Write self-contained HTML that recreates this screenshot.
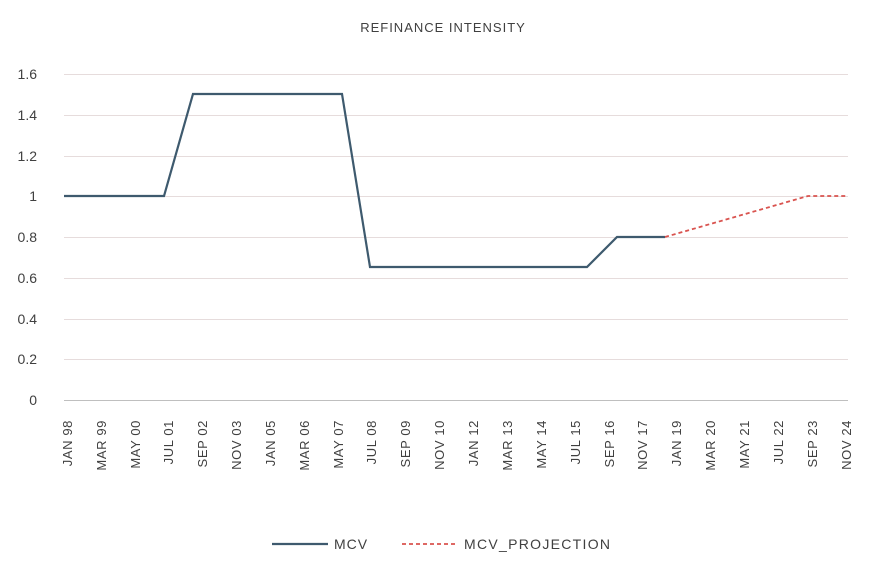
<!DOCTYPE html>
<html><head><style>body{margin:0;background:#fff}svg{display:block}text{font-family:"Liberation Sans",sans-serif;fill:#404040}</style></head><body>
<svg width="871" height="569" xmlns="http://www.w3.org/2000/svg">
<text x="443" y="32" font-size="13" text-anchor="middle" letter-spacing="1">REFINANCE INTENSITY</text>
<g stroke="#e6dcdc" stroke-width="1">
<line x1="64" x2="848" y1="74.5" y2="74.5"/><line x1="64" x2="848" y1="115.5" y2="115.5"/><line x1="64" x2="848" y1="156.5" y2="156.5"/><line x1="64" x2="848" y1="196.5" y2="196.5"/><line x1="64" x2="848" y1="237.5" y2="237.5"/><line x1="64" x2="848" y1="278.5" y2="278.5"/><line x1="64" x2="848" y1="319.5" y2="319.5"/><line x1="64" x2="848" y1="359.5" y2="359.5"/>
</g>
<line x1="64" x2="848" y1="400.5" y2="400.5" stroke="#bfbfbf"/>
<g font-size="14" text-anchor="end">
<text x="37" y="79">1.6</text><text x="37" y="120">1.4</text><text x="37" y="161">1.2</text><text x="37" y="201">1</text><text x="37" y="242">0.8</text><text x="37" y="283">0.6</text><text x="37" y="324">0.4</text><text x="37" y="364">0.2</text><text x="37" y="405">0</text>
</g>
<g font-size="13" text-anchor="end" letter-spacing="0.6">
<text transform="translate(72,420) rotate(-90)">JAN 98</text>
<text transform="translate(106,420) rotate(-90)">MAR 99</text>
<text transform="translate(140,420) rotate(-90)">MAY 00</text>
<text transform="translate(173,420) rotate(-90)">JUL 01</text>
<text transform="translate(207,420) rotate(-90)">SEP 02</text>
<text transform="translate(241,420) rotate(-90)">NOV 03</text>
<text transform="translate(275,420) rotate(-90)">JAN 05</text>
<text transform="translate(309,420) rotate(-90)">MAR 06</text>
<text transform="translate(343,420) rotate(-90)">MAY 07</text>
<text transform="translate(376,420) rotate(-90)">JUL 08</text>
<text transform="translate(410,420) rotate(-90)">SEP 09</text>
<text transform="translate(444,420) rotate(-90)">NOV 10</text>
<text transform="translate(478,420) rotate(-90)">JAN 12</text>
<text transform="translate(512,420) rotate(-90)">MAR 13</text>
<text transform="translate(546,420) rotate(-90)">MAY 14</text>
<text transform="translate(580,420) rotate(-90)">JUL 15</text>
<text transform="translate(614,420) rotate(-90)">SEP 16</text>
<text transform="translate(647,420) rotate(-90)">NOV 17</text>
<text transform="translate(681,420) rotate(-90)">JAN 19</text>
<text transform="translate(715,420) rotate(-90)">MAR 20</text>
<text transform="translate(749,420) rotate(-90)">MAY 21</text>
<text transform="translate(783,420) rotate(-90)">JUL 22</text>
<text transform="translate(817,420) rotate(-90)">SEP 23</text>
<text transform="translate(851,420) rotate(-90)">NOV 24</text>
</g>
<polyline fill="none" stroke="#3e5a6e" stroke-width="2.2" points="64,196 164,196 193,94 342,94 370,267 587,267 617,237 665,237"/>
<polyline fill="none" stroke="#d9534f" stroke-width="1.8" stroke-dasharray="4,3" points="665,237 808,196 848,196"/>
<line x1="272" x2="328" y1="544" y2="544" stroke="#3e5a6e" stroke-width="2.2"/>
<text x="334" y="549" font-size="14" letter-spacing="1">MCV</text>
<line x1="402" x2="458" y1="544" y2="544" stroke="#d9534f" stroke-width="1.8" stroke-dasharray="4,3"/>
<text x="464" y="549" font-size="14" letter-spacing="1.3">MCV_PROJECTION</text>
</svg>
</body></html>
